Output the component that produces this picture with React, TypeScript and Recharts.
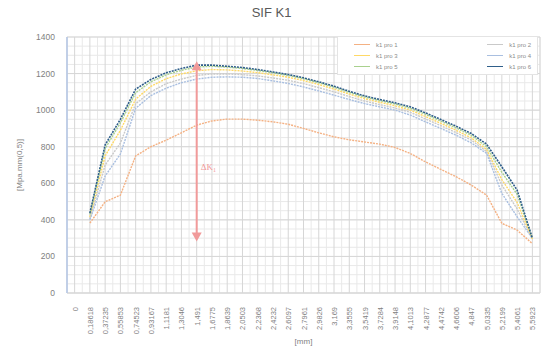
import { CartesianGrid, Line, LineChart, ReferenceDot, ReferenceLine, XAxis, YAxis } from 'recharts';

// categories on the x axis, [mm]
const categories = [
    '0', '0,18618', '0,37235', '0,55853', '0,74523', '0,93167', '1,1181', '1,3046',
    '1,491', '1,6775', '1,8639', '2,0503', '2,2368', '2,4232', '2,6097', '2,7961',
    '2,9826', '3,169', '3,3555', '3,5419', '3,7284', '3,9148', '4,1013', '4,2877',
    '4,4742', '4,6606', '4,847', '5,0335', '5,2199', '5,4061', '5,5923',
];

// SIF K1 values per profile, [Mpa.mm(0,5)]
const pro1 = [null, 382, 499, 535, 750, 800, 836, 876, 918, 941, 951, 951, 945, 936, 923, 900, 876, 854, 838, 826, 814, 796, 763, 717, 676, 636, 590, 535, 381, 344, 270];
const pro2 = [null, 405, 700, 820, 1035, 1100, 1145, 1170, 1190, 1198, 1198, 1194, 1187, 1176, 1163, 1145, 1123, 1100, 1074, 1050, 1030, 1012, 988, 952, 915, 877, 836, 774, 590, 460, 295];
const pro3 = [null, 415, 750, 890, 1060, 1130, 1172, 1198, 1215, 1222, 1220, 1214, 1205, 1193, 1180, 1162, 1140, 1115, 1088, 1063, 1043, 1024, 1000, 965, 928, 890, 848, 785, 620, 495, 295];
const pro4 = [null, 400, 640, 760, 1010, 1080, 1120, 1150, 1170, 1180, 1182, 1180, 1173, 1160, 1146, 1127, 1105, 1082, 1058, 1036, 1018, 1000, 973, 936, 900, 863, 821, 763, 545, 417, 299];
const pro5 = [null, 430, 790, 930, 1095, 1155, 1193, 1218, 1236, 1240, 1235, 1228, 1217, 1204, 1190, 1172, 1150, 1125, 1097, 1072, 1052, 1034, 1010, 977, 940, 903, 862, 800, 660, 540, 299];
const pro6 = [null, 437, 810, 950, 1115, 1168, 1204, 1228, 1246, 1246, 1240, 1233, 1222, 1209, 1195, 1177, 1155, 1131, 1103, 1078, 1058, 1040, 1018, 985, 949, 912, 872, 814, 690, 563, 299];

const seriesNames = ['k1 pro 1', 'k1 pro 2', 'k1 pro 3', 'k1 pro 4', 'k1 pro 5', 'k1 pro 6'];
const seriesColors = ['#f4b183', '#c9c9c9', '#ffd966', '#a9bfe0', '#a9d18e', '#2f5f8a'];

const yTicks = [0, 200, 400, 600, 800, 1000, 1200, 1400];

// delta K arrow: category, top, bottom, label height
const arrowX = '1,491';
const arrowTop = 1268;
const arrowBottom = 281;
const arrowLabelY = 689;

const allSeries = [pro1, pro2, pro3, pro4, pro5, pro6];
const keys = ['p1', 'p2', 'p3', 'p4', 'p5', 'p6'];

const data = categories.map((x, i) => {
    const row: Record<string, string | number | null> = { x };
    keys.forEach((k, s) => {
        row[k] = allSeries[s][i];
    });
    return row;
});

const arrowColor = '#f19a9a';
const font = '"Liberation Sans", Arial, sans-serif';

function XTick({ x, y, payload }: any) {
    return (
        <text
            x={x}
            y={y + 6}
            dy={3}
            transform={`rotate(-90 ${x} ${y + 6})`}
            textAnchor="end"
            fontSize={7.5}
            fill="#7f7f7f"
            fontFamily={font}
        >
            {payload.value}
        </text>
    );
}

function LegendBox() {
    return (
        <div
            style={{
                position: 'absolute',
                left: 337,
                top: 36,
                width: 201,
                height: 39,
                border: '1px solid #e4e4e4',
                background: '#fff',
                display: 'grid',
                gridTemplateColumns: '1fr 1fr',
                alignContent: 'space-around',
                padding: '2px 6px',
                boxSizing: 'border-box',
                fontFamily: font,
                fontSize: 6,
                color: '#8c8c8c',
            }}
        >
            {seriesNames.map((name, i) => (
                <div
                    key={name}
                    style={{ display: 'flex', alignItems: 'center', justifyContent: i % 2 ? 'flex-end' : 'flex-start' }}
                >
                    <span
                        style={{
                            display: 'inline-block',
                            width: 16,
                            borderTop: `1px solid ${seriesColors[i]}`,
                            marginRight: 6,
                            marginLeft: i % 2 ? 0 : 10,
                        }}
                    />
                    <span>{name}</span>
                </div>
            ))}
        </div>
    );
}

function ArrowHead({ cx, cy, dir }: any) {
    if (cx == null || cy == null) return null;
    const h = 9;
    const w = 5;
    const pts =
        dir === 'up'
            ? `${cx},${cy} ${cx - w},${cy + h} ${cx + w},${cy + h}`
            : `${cx},${cy} ${cx - w},${cy - h} ${cx + w},${cy - h}`;
    return <polygon points={pts} fill={arrowColor} />;
}

function ArrowLabel({ cx, cy }: any) {
    if (cx == null || cy == null) return null;
    return (
        <text x={cx + 4} y={cy + 3} fontSize={9} fill={arrowColor} fontFamily='"Liberation Serif", serif'>
            ΔK
            <tspan fontSize={6} dy={2}>
                1
            </tspan>
        </text>
    );
}

export default function App() {
    return (
        <div style={{ position: 'absolute', left: 0, top: 0, width: 543, height: 352, background: '#fff' }}>
            <div
                style={{
                    position: 'absolute',
                    left: 0,
                    top: 5,
                    width: 543,
                    textAlign: 'center',
                    fontFamily: font,
                    fontSize: 13,
                    color: '#595959',
                }}
            >
                SIF K1
            </div>
            <LineChart width={543} height={352} data={data} margin={{ top: 37, right: 3, left: 0, bottom: 0 }}>
                <CartesianGrid
                    stroke="#e9e9e9"
                    verticalCoordinatesGenerator={({ offset }: any) =>
                        Array.from({ length: categories.length + 1 }, (_, k) => offset.left + (k * offset.width) / categories.length)
                    }
                    horizontalCoordinatesGenerator={({ offset }: any) =>
                        Array.from({ length: 29 }, (_, k) => offset.top + (k * offset.height) / 28)
                    }
                />
                <CartesianGrid stroke="#d6d6d6" />
                <XAxis
                    dataKey="x"
                    scale="band"
                    interval={0}
                    height={59}
                    tickLine={false}
                    axisLine={{ stroke: '#d9d9d9' }}
                    tick={<XTick />}
                    label={{
                        content: ({ viewBox }: any) => (
                            <text
                                x={viewBox.x + viewBox.width / 2}
                                y={viewBox.y + 51}
                                textAnchor="middle"
                                fontSize={8}
                                fill="#7f7f7f"
                                fontFamily={font}
                            >
                                [mm]
                            </text>
                        ),
                    }}
                />
                <YAxis
                    width={67}
                    domain={[0, 1400]}
                    ticks={yTicks}
                    tickLine={false}
                    tickMargin={6}
                    axisLine={{ stroke: '#b4c7e7', strokeWidth: 1.5 }}
                    tick={{ fontSize: 8.5, fill: '#7f7f7f', fontFamily: font }}
                    label={{
                        content: ({ viewBox }: any) => {
                            const cx = viewBox.x + 22;
                            const cy = viewBox.y + viewBox.height / 2;
                            return (
                                <text
                                    x={cx}
                                    y={cy}
                                    transform={`rotate(-90 ${cx} ${cy})`}
                                    textAnchor="middle"
                                    fontSize={8}
                                    fill="#7f7f7f"
                                    fontFamily={font}
                                >
                                    [Mpa.mm(0,5)]
                                </text>
                            );
                        },
                    }}
                />
                {keys.map((k, s) => (
                    <Line
                        key={k}
                        dataKey={k}
                        name={seriesNames[s]}
                        stroke={seriesColors[s]}
                        strokeWidth={s === 5 ? 1.6 : 1.4}
                        strokeDasharray="2 1"
                        dot={false}
                        isAnimationActive={false}
                    />
                ))}
                <ReferenceLine
                    segment={[
                        { x: arrowX, y: arrowBottom + 30 },
                        { x: arrowX, y: arrowTop - 30 },
                    ]}
                    stroke={arrowColor}
                    strokeWidth={2}
                />
                <ReferenceDot x={arrowX} y={arrowTop} shape={(p: any) => <ArrowHead {...p} dir="up" />} />
                <ReferenceDot x={arrowX} y={arrowBottom} shape={(p: any) => <ArrowHead {...p} dir="down" />} />
                <ReferenceDot x={arrowX} y={arrowLabelY} shape={(p: any) => <ArrowLabel {...p} />} />
            </LineChart>
            <LegendBox />
        </div>
    );
}
